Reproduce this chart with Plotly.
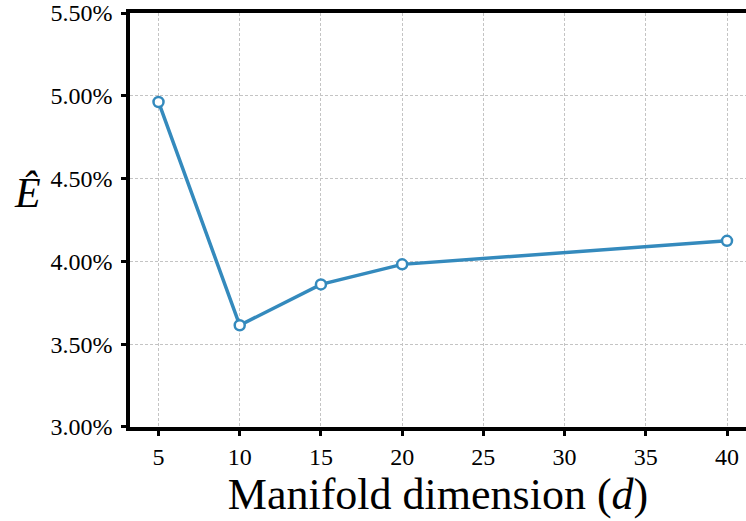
import plotly.graph_objects as go

dims = [5, 10, 15, 20, 40]
err_pct = [4.963, 3.614, 3.861, 3.982, 4.124]
y_ticks = [3.0, 3.5, 4.0, 4.5, 5.0, 5.5]
y_tick_text = ["3.00%", "3.50%", "4.00%", "4.50%", "5.00%", "5.50%"]
x_ticks = [5, 10, 15, 20, 25, 30, 35, 40]

FONT = "Liberation Serif"
BLUE = "#348ABD"

fig = go.Figure()
fig.add_trace(go.Scatter(
    x=dims, y=err_pct, mode="lines+markers",
    line=dict(color=BLUE, width=3.5),
    marker=dict(symbol="circle", size=10, color="white",
                line=dict(color=BLUE, width=2.5)),
    showlegend=False, cliponaxis=False,
))

fig.update_layout(
    width=746, height=521,
    margin=dict(l=130, r=0, t=11, b=94),
    paper_bgcolor="white", plot_bgcolor="white",
    font=dict(family=FONT, color="black", size=24),
    xaxis=dict(
        range=[3.245, 41.17], tickvals=x_ticks,
        showline=True, linecolor="black", linewidth=3.5, mirror=True,
        ticks="outside", ticklen=5, tickwidth=2.5, tickcolor="black",
        showgrid=True, gridcolor="#c4c4c4", griddash="3px,2px", gridwidth=1,
        zeroline=False, tickfont=dict(size=24, family=FONT, color="black"),
        ticklabelstandoff=0,
        title=dict(text="Manifold dimension (<i>d</i>)",
                   font=dict(size=44, family=FONT), standoff=0),
    ),
    yaxis=dict(
        range=[2.9995, 5.5005], tickvals=y_ticks, ticktext=y_tick_text,
        showline=True, linecolor="black", linewidth=3.5,
        ticks="outside", ticklen=5, tickwidth=2.5, tickcolor="black",
        showgrid=True, gridcolor="#c4c4c4", griddash="3px,2px", gridwidth=1,
        zeroline=False, tickfont=dict(size=24, family=FONT, color="black"),
        ticklabelstandoff=4, ticklabeloverflow="allow",
    ),
    annotations=[dict(
        text="<i>Ê</i>",
        x=(27 - 130) / (746 - 130), y=1 - (192 - 11) / (427 - 11),
        xref="paper", yref="paper",
        showarrow=False, font=dict(size=42, family=FONT),
        xanchor="center", yanchor="middle",
    )],
)

fig.write_html("out.html")
